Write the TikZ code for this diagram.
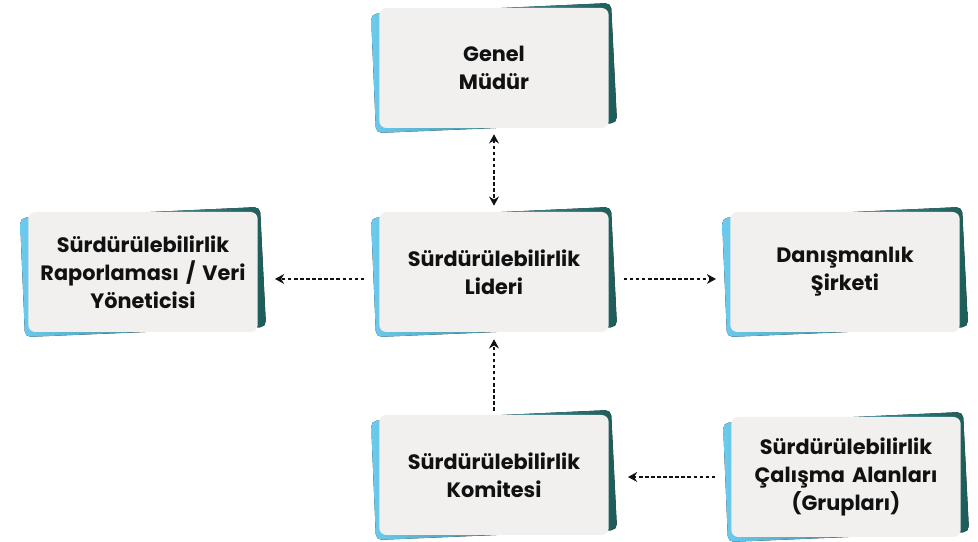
\documentclass[tikz,border=0pt]{standalone}
\usepackage{fontspec}
\setmainfont{Poppins}
\usetikzlibrary{arrows.meta,positioning,calc,backgrounds}
\usepackage{xcolor}

\definecolor{cardgray}{HTML}{F1F0EF}
\definecolor{edgeblue}{HTML}{6CCBEE}
\definecolor{edgeteal}{HTML}{1D5C57}
\definecolor{inkblack}{HTML}{111111}

\tikzset{
    card/.style={fill=cardgray, rounded corners=5pt, minimum width=5.7cm, minimum height=3cm,
        text width=5.5cm, align=center, text=inkblack,
        font=\fontsize{14.8}{20}\selectfont\bfseries},
    backing/.style={rounded corners=4pt, left color=edgeblue, right color=edgeteal},
    flow/.style={line width=1.7pt, dash pattern=on 2.4pt off 1.9pt, inkblack,
        -{Stealth[length=6.5pt, width=7pt]}},
}

\begin{document}
\begin{tikzpicture}
                \useasboundingbox (0,0) rectangle (24.45,13.55);

                % Cards
                \node[card] (gm) at (12.35,11.85) {Genel\\Müdür};
                \node[card] (lider) at (12.35,6.75) {Sürdürülebilirlik\\Lideri};
                \node[card] (rapor) at (3.575,6.75) {Sürdürülebilirlik\\Raporlaması / Veri\\Yöneticisi};
                \node[card] (danis) at (21.125,6.75) {Danışmanlık\\Şirketi};
                \node[card] (komite) at (12.35,1.675) {Sürdürülebilirlik\\Komitesi};
                \node[card] (alan) at (21.15,1.625) {Sürdürülebilirlik\\Çalışma Alanları\\(Grupları)};

                % Tilted backings
                \begin{scope}[on background layer]
                    \foreach \n in {gm,lider,rapor,danis,komite,alan}
                        \fill[backing] ($(\n.center)+(-3.075,1.35)$) -- ($(\n.center)+(2.925,1.625)$)
                            -- ($(\n.center)+(3.075,-1.375)$) -- ($(\n.center)+(-2.95,-1.625)$) -- cycle;
                \end{scope}

                % Arrows
                \draw[flow, {Stealth[length=6.5pt, width=7pt]}-{Stealth[length=6.5pt, width=7pt]}]
                    ([yshift=-0.15cm]gm.south) -- ([yshift=0.15cm]lider.north);
                \draw[flow] ([xshift=-0.375cm, yshift=-0.175cm]lider.west) -- ([xshift=0.425cm, yshift=-0.175cm]rapor.east);
                \draw[flow] ([xshift=0.375cm, yshift=-0.175cm]lider.east) -- ([xshift=-0.35cm, yshift=-0.175cm]danis.west);
                \draw[flow] ([yshift=0.1cm]komite.north) -- ([yshift=-0.175cm]lider.south);
                \draw[flow] ([xshift=-0.4cm, yshift=-0.05cm]alan.west |- komite.east) -- ([xshift=0.475cm, yshift=-0.05cm]komite.east);
            \end{tikzpicture}
\end{document}
